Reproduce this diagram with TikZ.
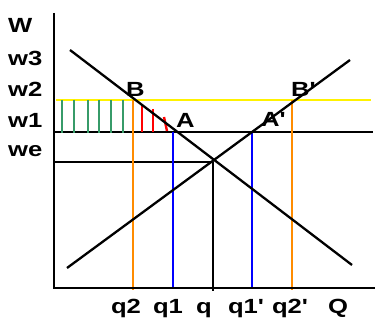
\documentclass[tikz,border=0pt]{standalone}
\usepackage{fontspec}
\setmainfont{Liberation Sans}
\begin{document}
\begin{tikzpicture}[x=1pt,y=-1pt,
  lab/.style={inner sep=0pt,anchor=base west,font=\fontsize{20.5}{20.5}\selectfont\bfseries},
  blk/.style={draw=black,line width=2.3pt},
  axisline/.style={draw=black,line width=2.6pt},
  yel/.style={draw=yellow,line width=2.6pt},
  org/.style={draw=orange!90!yellow,line width=2.3pt},
  blu/.style={draw=blue,line width=2.3pt},
  rd/.style={draw=red,line width=2.4pt}]
\useasboundingbox (0,0) rectangle (375,320);
\definecolor{grc}{RGB}{55,155,105}
\newcommand{\sx}[1]{\scalebox{1.25}[1]{#1}}
% horizontal price lines
\draw[yel] (56,100) -- (371,100);
\draw[blk] (54,132) -- (373,132);
\draw[blk] (54,162) -- (213,162);
% green strips
\foreach \x in {62,74,88,99,111,123} \draw[draw=grc,line width=2.4pt] (\x,100) -- (\x,133);
% red strips
\draw[rd] (142,105) -- (142,132);
\draw[rd] (153,109) -- (153,132);
\draw[rd] (164,117) -- (167,131);
% verticals
\draw[org] (133,100) -- (133,290);
\draw[org] (292,100) -- (292,290);
\draw[blu] (173,132) -- (173,288);
\draw[blu] (252,132) -- (252,288);
\draw[blk] (213,162) -- (213,291);
% demand and supply
\draw[blk] (70,50) -- (352,265);
\draw[blk] (67,268) -- (350,60);
% axes
\draw[axisline] (54,13) -- (54,288.2) -- (375,288.2);
% labels
\node[lab] (W) at (8,33) {\sx{W}};
\node[lab] (w3) at (8,66) {\sx{w3}};
\node[lab] (w2) at (8,97) {\sx{w2}};
\node[lab] (w1) at (8,128) {\sx{w1}};
\node[lab] (we) at (8,157) {\sx{we}};
\node[lab] (B) at (126,97) {\sx{B}};
\node[lab] (A) at (176,128) {\sx{A}};
\node[lab] (Ap) at (261,127) {\sx{A\textquotesingle}};
\node[lab] (Bp) at (291,97) {\sx{B\textquotesingle}};
\node[lab,anchor=base] (q2) at (126,314) {\sx{q2}};
\node[lab,anchor=base] (q1) at (168,314) {\sx{q1}};
\node[lab,anchor=base] (q) at (204,314) {\sx{q}};
\node[lab,anchor=base] (q1p) at (246,314) {\sx{q1\textquotesingle}};
\node[lab,anchor=base] (q2p) at (290,314) {\sx{q2\textquotesingle}};
\node[lab,anchor=base] (Q) at (338,314) {\sx{Q}};
\end{tikzpicture}
\end{document}
